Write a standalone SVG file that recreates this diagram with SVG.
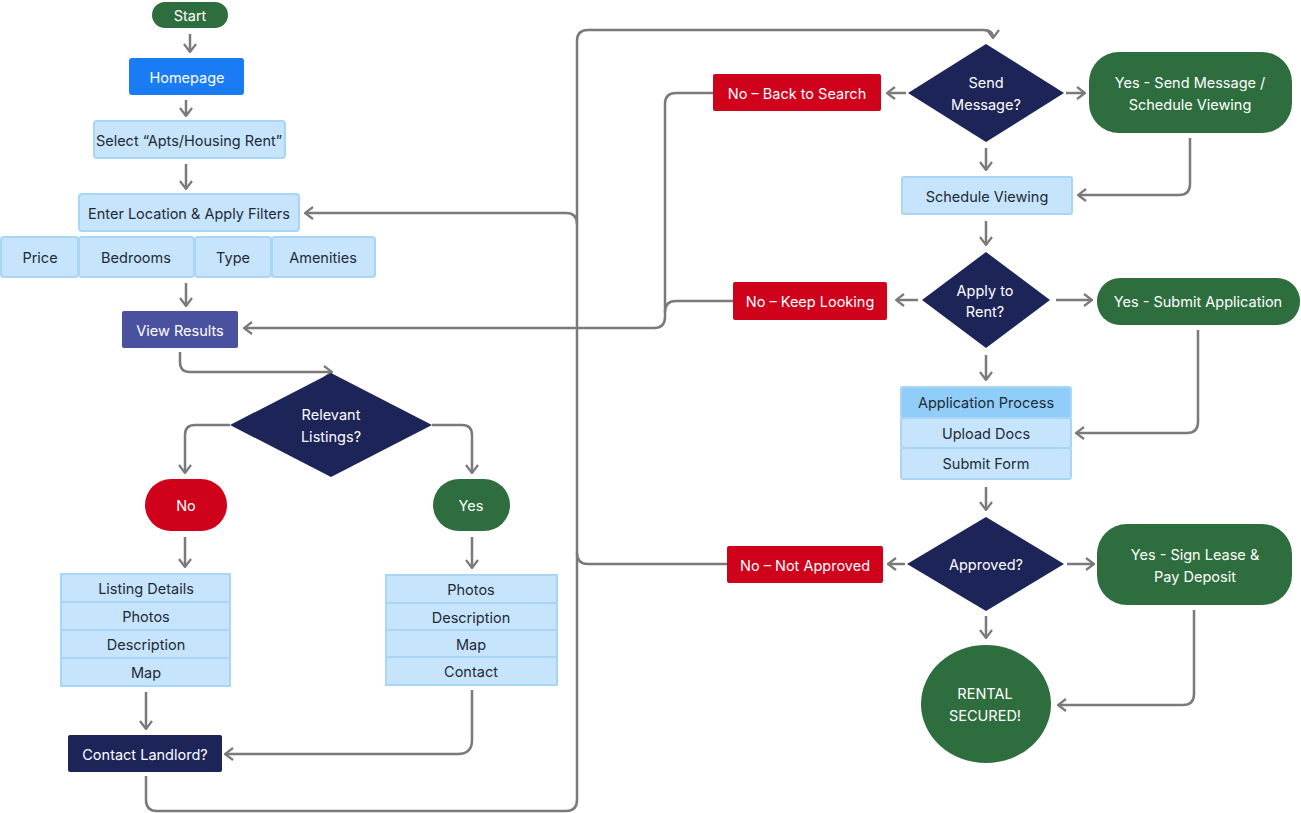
<svg xmlns="http://www.w3.org/2000/svg" width="1301" height="813" viewBox="0 0 1301 813">
<style>
text{font-family:Inter,"Liberation Sans",sans-serif;font-size:14.5px;text-anchor:middle;dominant-baseline:central;fill:#1f2a37}
.w{fill:#fff}
.lt{fill:#c6e4fb;stroke:#a9d5f6;stroke-width:2}
.gr{fill:#2e6e3e}.rd{fill:#d0021b}.nv{fill:#1d2458}
.c path{fill:none;stroke:#7a7a7a;stroke-width:2.5}
</style>
<defs><marker id="a" viewBox="0 0 10 14" refX="9" refY="7" markerWidth="10" markerHeight="14" markerUnits="userSpaceOnUse" orient="auto"><path d="M1,1 L9,7 L1,13" fill="none" stroke="#7a7a7a" stroke-width="2.2"/></marker></defs>
<rect width="1301" height="813" fill="#fff"/>
<g class="c">
<path d="M190,34V52" marker-end="url(#a)"/>
<path d="M186,100V116" marker-end="url(#a)"/>
<path d="M186,164V189" marker-end="url(#a)"/>
<path d="M186,283V306" marker-end="url(#a)"/>
<path d="M180,352V362q0,10 10,10H332" marker-end="url(#a)"/>
<path d="M230,425H195q-10,0 -10,10V473" marker-end="url(#a)"/>
<path d="M432,425H462q10,0 10,10V473" marker-end="url(#a)"/>
<path d="M185,537V567" marker-end="url(#a)"/>
<path d="M472,537V568" marker-end="url(#a)"/>
<path d="M146,692V729" marker-end="url(#a)"/>
<path d="M472,690V740q0,14 -14,14H225" marker-end="url(#a)"/>
<path d="M146,776V800q0,11 11,11H566q11,0 11,-11V41q0,-11 11,-11H983q10,0 10,8" marker-end="url(#a)"/>
<path d="M577,224q0,-11 -11,-11H305" marker-end="url(#a)"/>
<path d="M727,564H588q-11,0 -11,-11"/>
<path d="M713,93H676q-11,0 -11,11V317q0,11 -11,11H244" marker-end="url(#a)"/>
<path d="M733,301H676q-11,0 -11,11"/>
<path d="M906,93H887" marker-end="url(#a)"/>
<path d="M1066,93H1085" marker-end="url(#a)"/>
<path d="M986,148V170" marker-end="url(#a)"/>
<path d="M1190,138V184q0,11 -11,11H1078" marker-end="url(#a)"/>
<path d="M986,221V245" marker-end="url(#a)"/>
<path d="M918,300H896" marker-end="url(#a)"/>
<path d="M1056,300H1092" marker-end="url(#a)"/>
<path d="M986,355V380" marker-end="url(#a)"/>
<path d="M1198,330V422q0,11 -11,11H1076" marker-end="url(#a)"/>
<path d="M986,487V510" marker-end="url(#a)"/>
<path d="M905,564H888" marker-end="url(#a)"/>
<path d="M1067,564H1094" marker-end="url(#a)"/>
<path d="M986,616V638" marker-end="url(#a)"/>
<path d="M1194,610V694q0,11 -11,11H1058" marker-end="url(#a)"/>
</g>
<g id="start"><rect x="152" y="2" width="76" height="26" rx="13" class="gr"/><text x="190" y="15" class="w">Start</text></g>
<g id="homepage"><rect x="129" y="58" width="115" height="37" rx="3" fill="#1a7cf5"/><text x="187" y="77" class="w">Homepage</text></g>
<g id="select"><rect x="94" y="121" width="191" height="37" rx="3" class="lt"/><text x="189" y="140">Select “Apts/Housing Rent”</text></g>
<g id="enter"><rect x="79" y="194" width="220" height="37" rx="3" class="lt"/><text x="189" y="213">Enter Location &amp; Apply Filters</text></g>
<g id="filters">
<rect x="1" y="237" width="77" height="40" rx="3" class="lt"/><text x="40" y="257">Price</text>
<rect x="79" y="237" width="115" height="40" rx="3" class="lt"/><text x="136" y="257">Bedrooms</text>
<rect x="195" y="237" width="76" height="40" rx="3" class="lt"/><text x="233" y="257">Type</text>
<rect x="272" y="237" width="103" height="40" rx="3" class="lt"/><text x="323" y="257">Amenities</text>
</g>
<g id="view"><rect x="122" y="311" width="116" height="37" rx="2" fill="#4a52a0"/><text x="180" y="330" class="w">View Results</text></g>
<g id="relevant"><polygon points="331,373 432,425 331,477 230,425" class="nv"/><text x="331" y="414" class="w">Relevant</text><text x="331" y="436" class="w">Listings?</text></g>
<g id="no1"><rect x="145" y="479" width="82" height="52" rx="26" class="rd"/><text x="186" y="505" class="w">No</text></g>
<g id="yes1"><rect x="433" y="479" width="77" height="52" rx="26" class="gr"/><text x="471" y="505" class="w">Yes</text></g>
<g id="leftlist">
<rect x="61" y="574" width="169" height="28" class="lt"/><text x="146" y="588">Listing Details</text>
<rect x="61" y="602" width="169" height="28" class="lt"/><text x="146" y="616">Photos</text>
<rect x="61" y="630" width="169" height="28" class="lt"/><text x="146" y="644">Description</text>
<rect x="61" y="658" width="169" height="28" class="lt"/><text x="146" y="672">Map</text>
</g>
<g id="rightlist">
<rect x="386" y="575" width="171" height="28" class="lt"/><text x="471" y="589">Photos</text>
<rect x="386" y="603" width="171" height="27" class="lt"/><text x="471" y="617">Description</text>
<rect x="386" y="630" width="171" height="27" class="lt"/><text x="471" y="644">Map</text>
<rect x="386" y="657" width="171" height="28" class="lt"/><text x="471" y="671">Contact</text>
</g>
<g id="contact"><rect x="68" y="735" width="154" height="37" rx="2" class="nv"/><text x="145" y="754" class="w">Contact Landlord?</text></g>
<g id="send"><polygon points="986,44 1064,93 986,142 908,93" class="nv"/><text x="986" y="82" class="w">Send</text><text x="986" y="104" class="w">Message?</text></g>
<g id="noback"><rect x="713" y="74" width="168" height="37" rx="2" class="rd"/><text x="797" y="93" class="w">No – Back to Search</text></g>
<g id="yessend"><rect x="1089" y="52" width="203" height="81" rx="30" class="gr"/><text x="1190" y="82" class="w">Yes - Send Message /</text><text x="1190" y="104" class="w">Schedule Viewing</text></g>
<g id="schedule"><rect x="902" y="177" width="170" height="37" rx="2" class="lt"/><text x="987" y="196">Schedule Viewing</text></g>
<g id="apply"><polygon points="986,252 1050,300 986,348 922,300" class="nv"/><text x="985" y="290" class="w">Apply to</text><text x="985" y="311" class="w">Rent?</text></g>
<g id="nokeep"><rect x="733" y="282" width="154" height="38" rx="2" class="rd"/><text x="810" y="301" class="w">No – Keep Looking</text></g>
<g id="yessubmit"><rect x="1097" y="278" width="203" height="47" rx="23" class="gr"/><text x="1198" y="301" class="w">Yes - Submit Application</text></g>
<g id="appproc">
<rect x="901" y="387" width="170" height="31" rx="2" fill="#90cdf9" stroke="#a9d5f6" stroke-width="2"/><text x="986" y="402">Application Process</text>
<rect x="901" y="418" width="170" height="30" rx="2" class="lt"/><text x="986" y="433">Upload Docs</text>
<rect x="901" y="448" width="170" height="31" rx="2" class="lt"/><text x="986" y="463">Submit Form</text>
</g>
<g id="approved"><polygon points="986,517 1064,564 986,611 907,564" class="nv"/><text x="986" y="564" class="w">Approved?</text></g>
<g id="nonot"><rect x="727" y="546" width="156" height="37" rx="2" class="rd"/><text x="805" y="565" class="w">No – Not Approved</text></g>
<g id="yessign"><rect x="1097" y="524" width="195" height="81" rx="30" class="gr"/><text x="1195" y="554" class="w">Yes - Sign Lease &amp;</text><text x="1195" y="576" class="w">Pay Deposit</text></g>
<g id="rental"><ellipse cx="986" cy="704" rx="65" ry="59" class="gr"/><text x="985" y="693" class="w">RENTAL</text><text x="985" y="715" class="w">SECURED!</text></g>
</svg>
